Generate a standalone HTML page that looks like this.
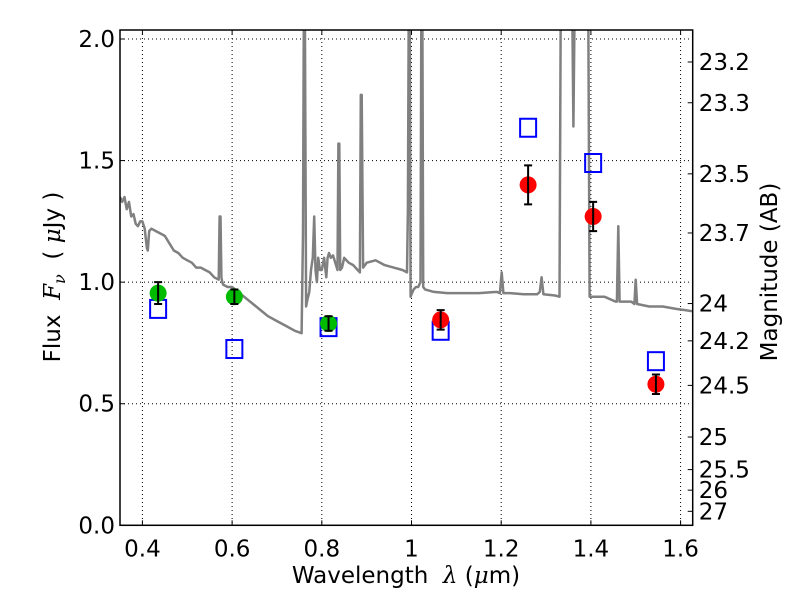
<!DOCTYPE html>
<html><head><meta charset="utf-8">
<style>
html,body{margin:0;padding:0;background:#fff;width:800px;height:600px;overflow:hidden}
svg text{font-family:"DejaVu Sans","Liberation Sans",sans-serif;fill:#000;white-space:pre}
</style></head>
<body>
<svg id="chart" width="800" height="600" xmlns="http://www.w3.org/2000/svg"></svg>
<script>
// ---- data ----
const specWave = [0.350,0.355,0.360,0.365,0.370,0.375,0.380,0.385,0.390,0.395,0.400,0.405,0.410,0.412,0.415,0.420,0.430,0.440,0.450,0.460,0.470,0.480,0.490,0.500,0.510,0.520,0.530,0.540,0.550,0.560,0.570,0.572,0.574,0.576,0.578,0.580,0.590,0.600,0.620,0.640,0.660,0.680,0.700,0.720,0.740,0.755,0.758,0.760,0.762,0.765,0.768,0.772,0.776,0.780,0.783,0.786,0.789,0.792,0.796,0.800,0.805,0.810,0.813,0.816,0.820,0.825,0.830,0.835,0.837,0.839,0.841,0.845,0.850,0.860,0.870,0.880,0.885,0.887,0.889,0.892,0.900,0.920,0.940,0.960,0.980,0.990,0.992,0.994,0.996,0.998,1.000,1.005,1.010,1.015,1.020,1.022,1.024,1.026,1.030,1.050,1.080,1.100,1.150,1.190,1.197,1.201,1.205,1.220,1.250,1.280,1.286,1.290,1.294,1.320,1.330,1.333,1.336,1.340,1.358,1.361,1.364,1.370,1.394,1.397,1.400,1.430,1.455,1.458,1.461,1.464,1.490,1.497,1.500,1.503,1.530,1.560,1.590,1.610,1.627];
const specFlux = [1.35,1.33,1.35,1.30,1.33,1.27,1.28,1.24,1.23,1.25,1.25,1.22,1.14,1.13,1.21,1.22,1.21,1.20,1.19,1.16,1.13,1.12,1.10,1.09,1.08,1.06,1.06,1.05,1.04,1.02,1.01,1.27,1.27,1.02,1.00,0.99,0.98,0.98,0.95,0.92,0.89,0.86,0.84,0.82,0.80,0.79,1.2,2.2,2.2,0.9,0.93,0.96,1.05,1.10,1.27,1.05,1.00,1.10,1.05,1.05,1.10,1.02,1.10,1.12,1.10,1.11,1.08,1.05,1.57,1.57,1.05,1.06,1.10,1.08,1.07,1.05,1.04,1.77,1.77,1.06,1.08,1.09,1.07,1.06,1.05,1.04,1.30,2.2,2.2,0.94,0.95,0.97,0.98,0.98,1.0,2.2,2.2,0.98,0.97,0.96,0.955,0.955,0.955,0.96,0.955,1.04,0.955,0.955,0.95,0.95,0.96,1.02,0.95,0.945,0.94,2.2,2.2,2.2,2.2,1.64,2.2,2.2,2.2,0.94,0.94,0.94,0.92,0.92,1.23,0.92,0.92,0.91,1.01,0.91,0.90,0.90,0.89,0.885,0.88,0.87];
const photWave = [0.435,0.605,0.815,1.065,1.26,1.405,1.545];
const photFlux = [0.955,0.94,0.83,0.845,1.40,1.27,0.58];
const photErr = [0.045,0.03,0.03,0.04,0.08,0.06,0.04];
const photColor = ["#00bb00","#00bb00","#00bb00","#ff0000","#ff0000","#ff0000","#ff0000"];
const modelFlux = [0.89,0.725,0.815,0.80,1.635,1.49,0.675];
const xTicks = [0.4,0.6,0.8,1.0,1.2,1.4,1.6];
const xTickLabels = ["0.4","0.6","0.8","1","1.2","1.4","1.6"];
const yTicks = [0.0,0.5,1.0,1.5,2.0];
const yTickLabels = ["0.0","0.5","1.0","1.5","2.0"];
const magTicks = [23.2,23.3,23.5,23.7,24,24.2,24.5,25,25.5,26,27];

// ---- axes ----
const L=120,R=692.7,T=30,B=525.3;
const xMin=0.35,xMax=1.627,yMin=0,yMax=2.037;
const X=v=>L+(v-xMin)/(xMax-xMin)*(R-L);
const Y=v=>B-(v-yMin)/(yMax-yMin)*(B-T);
const NS="http://www.w3.org/2000/svg";
const svg=document.getElementById('chart');
function mk(tag,attrs,parent){const e=document.createElementNS(NS,tag);for(const k in attrs)e.setAttribute(k,attrs[k]);(parent||svg).appendChild(e);return e;}

const defs=mk('defs',{});
const cp=mk('clipPath',{id:'clip'},defs);
mk('rect',{x:L,y:T,width:R-L,height:B-T},cp);
const FS=23;

xTicks.forEach((t,i)=>{
  const g=mk('line',{x1:X(t),x2:X(t),y1:T,y2:B,stroke:'#000','stroke-width':1,'stroke-dasharray':'1,3'});
  
  
  mk('line',{x1:X(t),x2:X(t),y1:B,y2:B-5,stroke:'#000'});
  mk('line',{x1:X(t),x2:X(t),y1:T,y2:T+5,stroke:'#000'});
  const lb=mk('text',{x:X(t),y:B+31,'font-size':FS,'text-anchor':'middle'});
  lb.textContent=xTickLabels[i];
  
  
});
yTicks.forEach((t,i)=>{
  const g=mk('line',{x1:L,x2:R,y1:Y(t),y2:Y(t),stroke:'#000','stroke-width':1,'stroke-dasharray':'1,3'});
  
  
  mk('line',{x1:L,x2:L+5,y1:Y(t),y2:Y(t),stroke:'#000'});
  const lb=mk('text',{x:L-5,y:Y(t)+8,'font-size':FS,'text-anchor':'end'});
  lb.textContent=yTickLabels[i];
  
  
});
magTicks.forEach(m=>{
  const f=Math.pow(10,(23.9-m)/2.5);
  mk('line',{x1:R-5,x2:R,y1:Y(f),y2:Y(f),stroke:'#000'});
  const lb=mk('text',{x:R+6,y:Y(f)+8,'font-size':FS});
  lb.textContent=String(m);
  
  
});

const sp=mk('polyline',{points:specWave.map((w,i)=>X(w).toFixed(1)+','+Y(specFlux[i]).toFixed(1)).join(' '),fill:'none',stroke:'#808080','stroke-width':2.5,'stroke-linejoin':'round','clip-path':'url(#clip)'});



photWave.forEach((w,i)=>{
  const s=mk('rect',{x:X(w)-8,y:Y(modelFlux[i])-9,width:16,height:18,fill:'none',stroke:'#0000ff','stroke-width':2});
  
  
});
photWave.forEach((w,i)=>{
  const x=X(w),y=Y(photFlux[i]),e1=Y(photFlux[i]+photErr[i]),e2=Y(photFlux[i]-photErr[i]);
  const c=mk('circle',{cx:x,cy:y,r:8.5,fill:photColor[i]});
  
  
  const eb=mk('path',{d:`M${x},${e1}V${e2}M${x-4},${e1}H${x+4}M${x-4},${e2}H${x+4}`,stroke:'#000','stroke-width':2,fill:'none'});
  
  
});

const fr=mk('rect',{x:L,y:T,width:R-L,height:B-T,fill:'none',stroke:'#000','stroke-width':1.5});



const xt=mk('text',{x:406,y:583,'font-size':FS,'text-anchor':'middle'});
xt.innerHTML='Wavelength  <tspan font-style="italic" font-family="DejaVu Serif, serif">λ</tspan> (<tspan font-style="italic" font-family="DejaVu Serif, serif">μ</tspan>m)';


const yt=mk('text',{x:0,y:0,'font-size':FS,'text-anchor':'middle',transform:'translate(60,277) rotate(-90)'});
yt.innerHTML='Flux  <tspan font-style="italic" font-family="DejaVu Serif, serif">F</tspan><tspan font-style="italic" font-family="DejaVu Serif, serif" font-size="16" dy="5">ν</tspan><tspan dy="-5">  ( </tspan><tspan font-style="italic" font-family="DejaVu Serif, serif">μ</tspan>Jy )';


const mt=mk('text',{x:0,y:0,'font-size':FS,'text-anchor':'middle',transform:'translate(777,272) rotate(-90)'});
mt.textContent='Magnitude (AB)';


</script>
</body></html>
